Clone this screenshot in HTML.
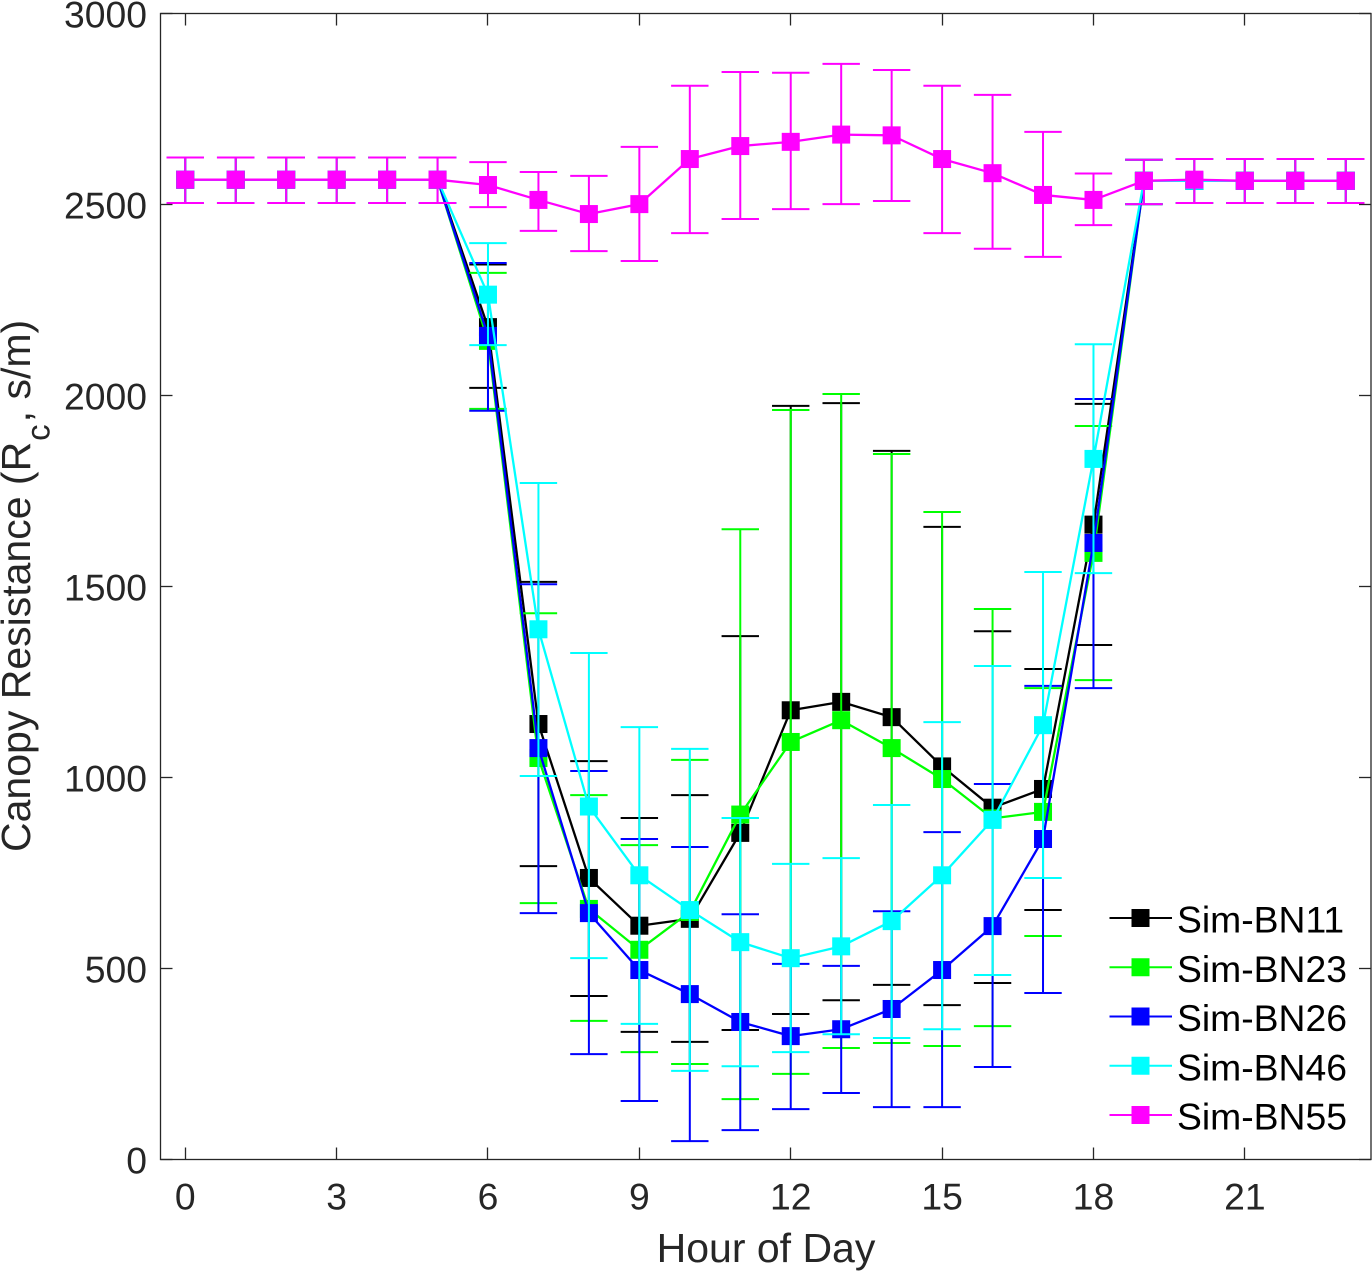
<!DOCTYPE html>
<html lang="en">
<head>
<meta charset="utf-8">
<title>Canopy Resistance by Hour of Day</title>
<style>
html,body{margin:0;padding:0;background:#fff;}
svg{display:block;font-family:"Liberation Sans",Arial,sans-serif;}
</style>
</head>
<body>
<svg id="chart" xmlns="http://www.w3.org/2000/svg" width="1372" height="1271" viewBox="0 0 1372 1271">
  <rect x="0" y="0" width="1372" height="1271" fill="#ffffff"/>
  <g id="series-layer"></g>
  <g id="axes-layer"></g>
  <g id="legend-layer"></g>
  <text x="766" y="1262" font-size="41" fill="#262626" text-anchor="middle">Hour of Day</text>
  <text transform="translate(30,852) rotate(-90)" font-size="41" fill="#262626" text-anchor="start">Canopy Resistance (R<tspan font-size="33" dy="19.5" dx="1">c</tspan><tspan dy="-19.5" dx="2">, s/m)</tspan></text>
</svg>
<script>
const hours = [0,1,2,3,4,5,6,7,8,9,10,11,12,13,14,15,16,17,18,19,20,21,22,23];
const xTickLabels = [0,3,6,9,12,15,18,21];
const yTickLabels = [0,500,1000,1500,2000,2500,3000];
const seriesNames = ["Sim-BN11","Sim-BN23","Sim-BN26","Sim-BN46","Sim-BN55"];
const seriesColors = ["#000000","#00ff00","#0000ff","#00ffff","#ff00ff"];

const bn11Mean  = [2565,2565,2565,2565,2565,2565,2179,1140,737,612,630,855,1176,1198,1158,1029,921,970,1662,2562,2562,2562,2562,2562];
const bn11Upper = [2623,2623,2623,2623,2623,2623,2343,1512,1043,894,954,1370,1973,1980,1855,1656,1383,1284,1978,2617,2619,2619,2619,2619];
const bn11Lower = [2504,2504,2504,2504,2504,2504,2020,768,428,334,308,339,381,417,457,404,462,653,1347,2501,2504,2504,2504,2504];

const bn23Mean  = [2565,2565,2565,2565,2565,2565,2143,1051,656,549,648,903,1093,1150,1077,996,893,910,1588,2562,2562,2562,2562,2562];
const bn23Upper = [2623,2623,2623,2623,2623,2623,2321,1430,954,823,1046,1650,1962,2004,1847,1695,1441,1234,1920,2617,2619,2619,2619,2619];
const bn23Lower = [2504,2504,2504,2504,2504,2504,1965,671,363,281,250,158,224,292,305,297,349,585,1255,2501,2504,2504,2504,2504];

const bn26Mean  = [2565,2565,2565,2565,2565,2565,2156,1077,645,496,433,360,323,341,394,496,611,839,1614,2562,2562,2562,2562,2562];
const bn26Upper = [2623,2623,2623,2623,2623,2623,2347,1506,1017,839,818,642,512,507,650,857,983,1240,1991,2617,2619,2619,2619,2619];
const bn26Lower = [2504,2504,2504,2504,2504,2504,1960,645,276,153,48,77,132,174,137,137,242,436,1234,2501,2504,2504,2504,2504];

const bn46Mean  = [2565,2565,2565,2565,2565,2565,2264,1388,924,744,653,569,527,558,624,744,889,1137,1834,2562,2562,2562,2562,2562];
const bn46Upper = [2623,2623,2623,2623,2623,2623,2399,1771,1326,1132,1075,894,774,789,928,1145,1292,1538,2134,2617,2619,2619,2619,2619];
const bn46Lower = [2504,2504,2504,2504,2504,2504,2132,1004,527,355,232,244,281,328,318,341,483,737,1535,2501,2504,2504,2504,2504];

const bn55Mean  = [2565,2565,2565,2565,2565,2565,2551,2512,2475,2501,2619,2653,2664,2683,2681,2619,2582,2525,2512,2562,2565,2562,2562,2562];
const bn55Upper = [2623,2623,2623,2623,2623,2623,2611,2585,2575,2651,2811,2847,2845,2868,2852,2811,2787,2690,2581,2617,2619,2619,2619,2619];
const bn55Lower = [2504,2504,2504,2504,2504,2504,2493,2431,2378,2352,2425,2462,2488,2501,2509,2425,2384,2363,2446,2501,2504,2504,2504,2504];

const meanSets  = [bn11Mean,bn23Mean,bn26Mean,bn46Mean,bn55Mean];
const upperSets = [bn11Upper,bn23Upper,bn26Upper,bn46Upper,bn55Upper];
const lowerSets = [bn11Lower,bn23Lower,bn26Lower,bn46Lower,bn55Lower];

const NS = "http://www.w3.org/2000/svg";
const plotLeft = 160, plotRight = 1371, plotTop = 13.5, plotBottom = 1159.5;
const xMin = -0.5, xMax = 23.5, yMin = 0, yMax = 3000;
const axisColor = "#262626";

function xScale(v){ return plotLeft + (v - xMin) / (xMax - xMin) * (plotRight - plotLeft); }
function yScale(v){ return plotBottom - (v - yMin) / (yMax - yMin) * (plotBottom - plotTop); }

function makeLine(x1,y1,x2,y2,color,width){
  const el = document.createElementNS(NS,"line");
  el.setAttribute("x1",x1);
  el.setAttribute("y1",y1);
  el.setAttribute("x2",x2);
  el.setAttribute("y2",y2);
  el.setAttribute("stroke",color);
  el.setAttribute("stroke-width",width);
  return el;
}
function makeSquare(cx,cy,size,color){
  const el = document.createElementNS(NS,"rect");
  el.setAttribute("x",cx-size/2);
  el.setAttribute("y",cy-size/2);
  el.setAttribute("width",size);
  el.setAttribute("height",size);
  el.setAttribute("fill",color);
  return el;
}
function makeText(x,y,str,size,color,anchor){
  const el = document.createElementNS(NS,"text");
  el.setAttribute("x",x);
  el.setAttribute("y",y);
  el.setAttribute("font-size",size);
  el.setAttribute("fill",color);
  el.setAttribute("text-anchor",anchor);
  el.textContent = str;
  return el;
}

const seriesLayer = document.getElementById("series-layer");
const axesLayer = document.getElementById("axes-layer");
const legendLayer = document.getElementById("legend-layer");

/* series */
seriesNames.forEach(function(name,s){
  const color = seriesColors[s];
  const slug = name.toLowerCase();
  const group = document.createElementNS(NS,"g");
  
  
  seriesLayer.appendChild(group);

  const capHalf = 18.7;
  hours.forEach(function(h,i){
    const x = xScale(h);
    const yu = yScale(upperSets[s][i]);
    const yl = yScale(lowerSets[s][i]);
    const stem = makeLine(x,yu,x,yl,color,2);
    
    
    group.appendChild(stem);
    const capU = makeLine(x-capHalf,yu,x+capHalf,yu,color,2);
    
    
    group.appendChild(capU);
    const capL = makeLine(x-capHalf,yl,x+capHalf,yl,color,2);
    
    
    group.appendChild(capL);
  });

  const path = document.createElementNS(NS,"polyline");
  path.setAttribute("points", hours.map(function(h,i){ return xScale(h).toFixed(2)+","+yScale(meanSets[s][i]).toFixed(2); }).join(" "));
  path.setAttribute("fill","none");
  path.setAttribute("stroke",color);
  path.setAttribute("stroke-width",2.3);
  path.setAttribute("stroke-linejoin","round");
  
  
  group.appendChild(path);

  hours.forEach(function(h,i){
    const marker = makeSquare(xScale(h),yScale(meanSets[s][i]),18,color);
    
    
    group.appendChild(marker);
  });
});

/* axes box */
const box = document.createElementNS(NS,"rect");
box.setAttribute("x",plotLeft+0.5);
box.setAttribute("y",plotTop);
box.setAttribute("width",plotRight-plotLeft-0.5);
box.setAttribute("height",plotBottom-plotTop);
box.setAttribute("fill","none");
box.setAttribute("stroke",axisColor);
box.setAttribute("stroke-width",1.3);


axesLayer.appendChild(box);

const tickLen = 12;
xTickLabels.forEach(function(v){
  const x = Math.floor(xScale(v)) + 0.5;
  const tb = makeLine(x,plotBottom,x,plotBottom-tickLen,axisColor,1.3);
  
  
  axesLayer.appendChild(tb);
  const tt = makeLine(x,plotTop,x,plotTop+tickLen,axisColor,1.3);
  
  
  axesLayer.appendChild(tt);
  const lab = makeText(xScale(v),1209.5,String(v),37.3,axisColor,"middle");
  
  
  axesLayer.appendChild(lab);
});
yTickLabels.forEach(function(v){
  const y = yScale(v);
  const tl = makeLine(plotLeft+0.5,y,plotLeft+0.5+tickLen,y,axisColor,1.3);
  
  
  axesLayer.appendChild(tl);
  const tr = makeLine(plotRight,y,plotRight-tickLen,y,axisColor,1.3);
  
  
  axesLayer.appendChild(tr);
  const lab = makeText(147,y+14,String(v),37.3,axisColor,"end");
  
  
  axesLayer.appendChild(lab);
});

/* legend */
const legendStartY = 918, legendStep = 49.25;
seriesNames.forEach(function(name,s){
  const y = legendStartY + s*legendStep;
  const entry = document.createElementNS(NS,"g");
  
  
  const ln = makeLine(1109.5,y,1172,y,seriesColors[s],2);
  
  
  entry.appendChild(ln);
  const mk = makeSquare(1140.5,y,18,seriesColors[s]);
  
  
  entry.appendChild(mk);
  const tx = makeText(1177,y+14.5,name,37.3,"#000000","start");
  
  
  entry.appendChild(tx);
  legendLayer.appendChild(entry);
});
</script>
</body>
</html>
